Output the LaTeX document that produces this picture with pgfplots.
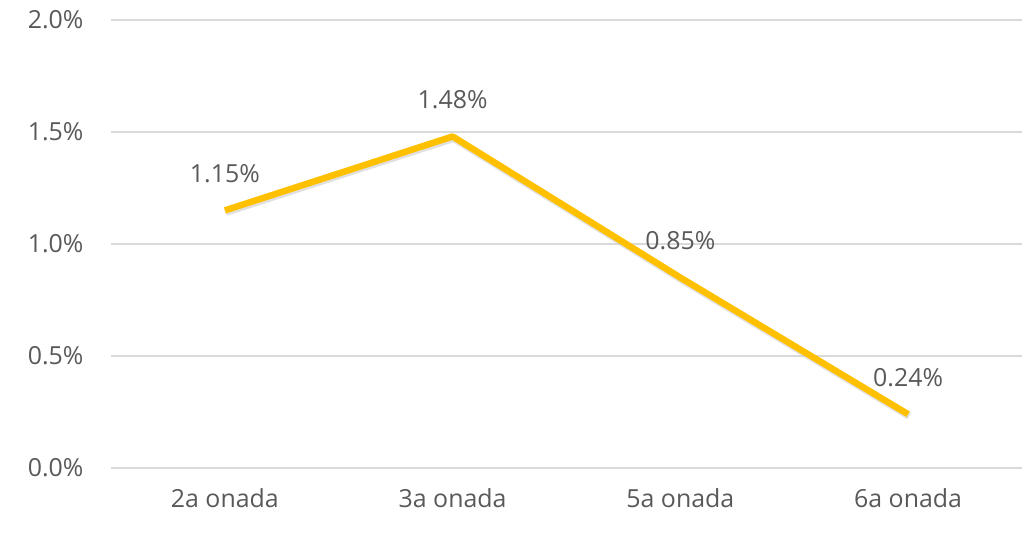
\documentclass[border=0pt]{standalone}
\usepackage{pgfplots}
\pgfplotsset{compat=1.18}
\usepackage{fontspec}
\setmainfont{Open Sans}
\definecolor{txt}{HTML}{595959}
\definecolor{gridc}{HTML}{D9D9D9}
\definecolor{gold}{HTML}{FFC000}
\begin{document}
\begin{tikzpicture}
\useasboundingbox (-111bp,-65bp) rectangle (914bp,468bp);
\begin{axis}[
  at={(0,0)}, anchor=south west,
  scale only axis, width=911bp, height=448bp,
  xmin=-0.5, xmax=3.5, ymin=0, ymax=2,
  axis line style={draw=none},
  xtick={0,1,2,3},
  xticklabels={2a onada,3a onada,5a onada,6a onada},
  ytick={0,0.5,1,1.5,2},
  yticklabel={\pgfmathprintnumber[fixed,fixed zerofill,precision=1]{\tick}\%},
  /pgf/number format/assume math mode=true,
  ymajorgrids, xmajorgrids=false, major grid style={draw=gridc, line width=1.3bp},
  major tick length=0pt,
  tick label style={font=\fontsize{25}{29}\selectfont, text=txt},
  xticklabel style={yshift=-17bp},
  yticklabel style={xshift=-24bp},
  clip=false,
]
\addplot[gray!40, opacity=0.6, line width=7bp, line join=round, forget plot, yshift=-2bp, xshift=1bp]
  coordinates {(0,1.15) (1,1.48) (2,0.85) (3,0.24)};
\addplot[gold, line width=6.5bp, line join=round,
  nodes near coords, point meta=explicit symbolic,
  every node near coord/.style={font=\fontsize{25}{29}\selectfont, text=txt, anchor=center, yshift=37bp}]
  coordinates {
    (0,1.15) [1.15\%]
    (1,1.48) [1.48\%]
    (2,0.85) [0.85\%]
    (3,0.24) [0.24\%]
  };
\end{axis}
\end{tikzpicture}
\end{document}
